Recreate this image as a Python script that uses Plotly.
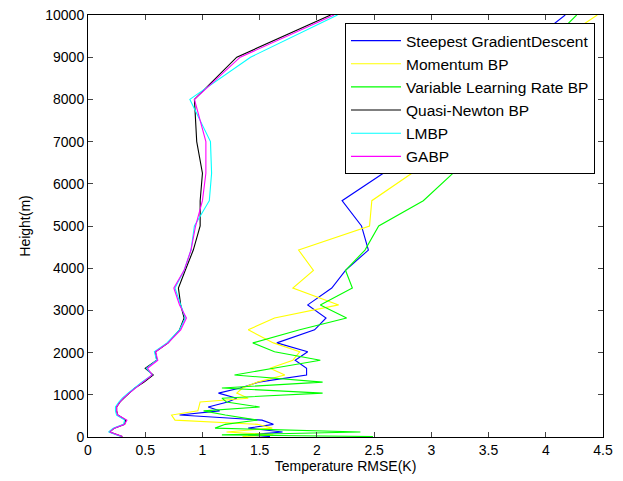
import plotly.graph_objects as go

heights = [10000, 9000, 8000, 7000, 6250, 5600, 5000, 4430, 3950, 3530, 3130, 2820,
           2540, 2230, 2020, 1820, 1630, 1470, 1300, 1160, 1040, 920, 830, 710,
           620, 520, 400, 300, 210, 120, 50, 10]

sgd = [4.17, 3.70, 3.30, 2.90, 2.58, 2.22, 2.39, 2.45, 2.25, 2.13, 1.92, 2.08,
       1.98, 1.65, 1.92, 1.81, 1.91, 1.91, 1.49, 1.33, 1.14, 1.30, 1.22, 1.05,
       1.15, 0.80, 1.52, 1.62, 1.40, 1.70, 1.40, 1.59]
momentum = [4.45, 3.90, 3.50, 3.10, 2.83, 2.48, 2.46, 1.84, 1.97, 1.79, 2.19, 1.63,
            1.40, 1.62, 1.85, 1.79, 1.59, 1.72, 1.48, 1.35, 1.30, 1.40, 0.98, 0.97,
            0.96, 0.73, 0.76, 1.48, 1.61, 1.21, 1.62, 1.35]
variable_lr = [4.27, 3.90, 3.60, 3.35, 3.19, 2.93, 2.54, 2.42, 2.25, 2.31, 2.03, 2.26,
               1.85, 1.44, 1.63, 2.03, 1.62, 1.28, 2.05, 1.17, 2.05, 1.17, 1.21, 1.50,
               1.01, 1.20, 1.48, 1.20, 1.11, 2.38, 1.17, 2.49]
quasi_newton = [2.12, 1.30, 0.93, 0.95, 1.00, 0.98, 0.98, 0.92, 0.85, 0.79, 0.81, 0.84,
                0.80, 0.70, 0.59, 0.60, 0.50, 0.57, 0.49, 0.41, 0.36, 0.31, 0.28, 0.25,
                0.25, 0.26, 0.33, 0.32, 0.23, 0.19, 0.26, 0.30]
lmbp = [2.18, 1.42, 0.89, 1.07, 1.08, 1.06, 0.93, 0.90, 0.84, 0.76, 0.81, 0.85,
        0.80, 0.69, 0.58, 0.60, 0.51, 0.56, 0.47, 0.40, 0.35, 0.30, 0.27, 0.24,
        0.24, 0.25, 0.32, 0.31, 0.22, 0.18, 0.25, 0.29]
gabp = [2.15, 1.33, 0.93, 1.03, 1.03, 1.00, 0.94, 0.90, 0.84, 0.75, 0.80, 0.86,
        0.81, 0.70, 0.59, 0.61, 0.52, 0.56, 0.48, 0.41, 0.36, 0.31, 0.28, 0.25,
        0.25, 0.26, 0.34, 0.32, 0.23, 0.19, 0.27, 0.30]

names = ["Steepest GradientDescent", "Momentum BP", "Variable Learning Rate BP",
         "Quasi-Newton BP", "LMBP", "GABP"]
series = [sgd, momentum, variable_lr, quasi_newton, lmbp, gabp]
colors = ["#0000FF", "#FFFF00", "#00FF00", "#000000", "#00FFFF", "#FF00FF"]

x_ticks = [0, 0.5, 1, 1.5, 2, 2.5, 3, 3.5, 4, 4.5]
y_ticks = list(range(0, 10001, 1000))

fig = go.Figure()
for i, (n, s, c) in enumerate(zip(names, series, colors)):
    fig.add_trace(go.Scatter(x=s, y=heights, mode="lines", name=n,
                             legendgroup=str(i),
                             line=dict(color=c, width=1.1)))

font = "Liberation Sans, Arial, sans-serif"
fig.update_layout(
    width=623, height=481,
    margin=dict(l=88, r=20, t=15, b=44, autoexpand=False),
    paper_bgcolor="white", plot_bgcolor="white",
    font=dict(family=font, size=14, color="black"),
    showlegend=True,
    legend=dict(x=0.499, y=0.981, xanchor="left", yanchor="top",
                bgcolor="white", bordercolor="black", borderwidth=1,
                font=dict(size=15.5, family=font), tracegroupgap=1,
                itemwidth=50, traceorder="normal"),
    xaxis=dict(range=[0, 4.5], tickvals=x_ticks, ticks="inside", ticklen=5,
               showline=True, linecolor="black", linewidth=1, mirror="ticks",
               showgrid=False, zeroline=False, automargin=False,
               title=dict(text="Temperature RMSE(K)", font=dict(size=14), standoff=4)),
    yaxis=dict(range=[0, 10000], tickvals=y_ticks, tickformat="d", ticks="inside",
               ticklen=5, showline=True, linecolor="black", linewidth=1,
               mirror="ticks", showgrid=False, zeroline=False, automargin=False,
               ticklabeloverflow="allow",
               title=dict(text="Height(m)", font=dict(size=14), standoff=11)),
)

fig.write_html("out.html", config={"displayModeBar": False},
               post_script="document.body.style.margin='0';document.body.style.padding='0';")
